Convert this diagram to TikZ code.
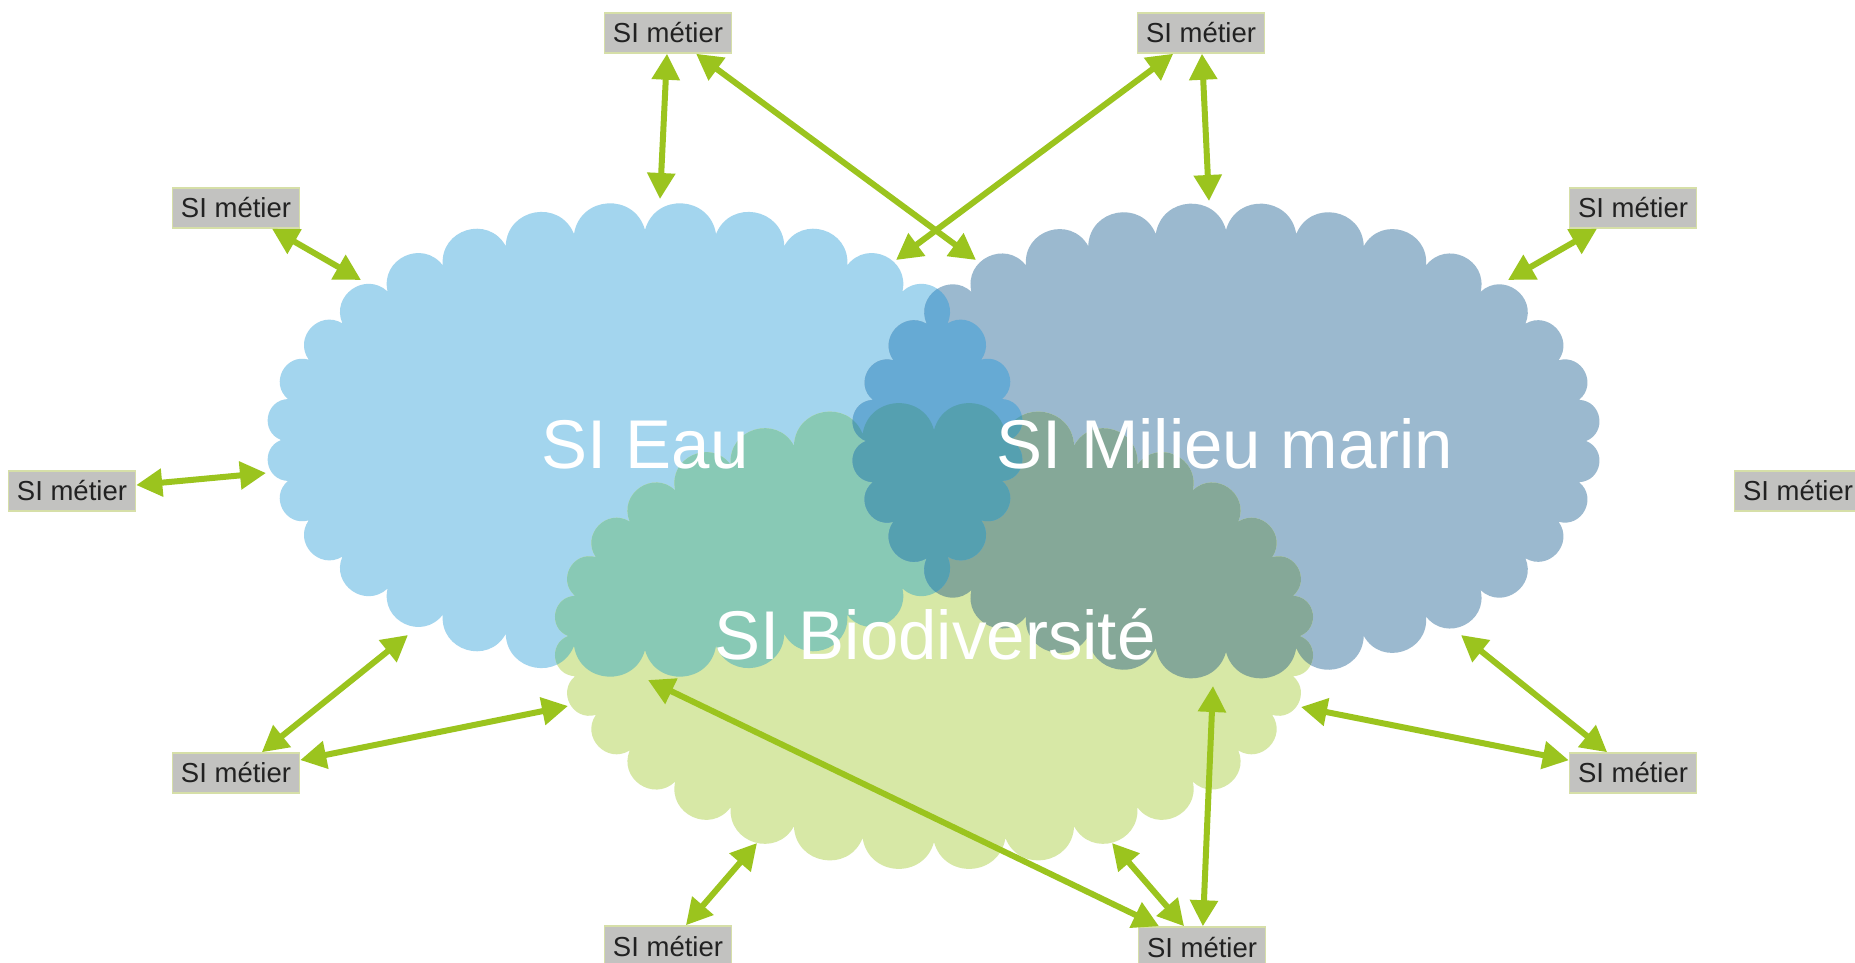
\documentclass[tikz,border=0pt]{standalone}
\usepackage{fontspec}
\setmainfont{Liberation Sans}
\usetikzlibrary{arrows.meta,calc}
\definecolor{eaucol}{HTML}{A3D5EE}
\definecolor{marcol}{HTML}{9BB9CF}
\definecolor{biocol}{HTML}{D7E8A6}
\definecolor{ebcol}{HTML}{88C9B5}
\definecolor{mbcol}{HTML}{85A898}
\definecolor{emcol}{HTML}{66AAD4}
\definecolor{allcol}{HTML}{55A0B0}
\definecolor{arrgreen}{HTML}{9BC41E}
\definecolor{labgray}{HTML}{C2C2C0}
\definecolor{labedge}{HTML}{D6DFA8}
\definecolor{labtext}{HTML}{222222}
% name, cx, cy (pixel, downward), rx, ry, N
\newcommand{\cloudpts}[6]{%
  \foreach \k in {0,...,#6}{%
    \coordinate (#1\k) at ({#2+#4*cos(\k*360/#6)},{-#3+#5*sin(\k*360/#6)});
  }}
\newcommand{\cloudpath}[2]{(#10) \foreach \k [evaluate=\k as \j using int(\k-1)] in {1,...,#2}{ .. controls ($(#1\j)!0.55!-78:(#1\k)$) and ($(#1\k)!0.55!78:(#1\j)$) .. (#1\k) } -- cycle}
\tikzset{
  lab/.style={fill=labgray, draw=labedge, line width=1.5pt, minimum width=127pt, minimum height=40pt, inner sep=0pt, text=labtext, font=\fontsize{27.5}{30}\selectfont},
  biglab/.style={anchor=base, text=white, inner sep=0pt, font=\fontsize{69}{80}\selectfont},
  arr/.style={draw=arrgreen, line width=6pt, {Triangle[length=26pt,width=27pt]}-{Triangle[length=26pt,width=27pt]}}
}
\begin{document}
\begin{tikzpicture}[x=1pt,y=1pt]
\useasboundingbox (0,0) rectangle (1855,-963);
\fill[white] (0,0) rectangle (1855,-963);
% cloud geometry
\cloudpts{eau}{645}{440}{364}{210}{32}
\cloudpts{mar}{1226}{441}{360}{211}{32}
\cloudpts{bio}{934}{636}{366}{206}{32}
% base clouds
\fill[eaucol] \cloudpath{eau}{32};
\fill[marcol] \cloudpath{mar}{32};
\fill[biocol] \cloudpath{bio}{32};
% overlaps
\begin{scope}\clip \cloudpath{eau}{32}; \fill[ebcol] \cloudpath{bio}{32};\end{scope}
\begin{scope}\clip \cloudpath{mar}{32}; \fill[mbcol] \cloudpath{bio}{32};\end{scope}
\begin{scope}\clip \cloudpath{eau}{32}; \fill[emcol] \cloudpath{mar}{32};\end{scope}
\begin{scope}\clip \cloudpath{eau}{32}; \clip \cloudpath{mar}{32}; \fill[allcol] \cloudpath{bio}{32};\end{scope}
% big titles
\node[biglab] (teau) at (645,-468) {SI Eau};
\node[biglab] (tmar) at (1225,-468) {SI Milieu marin};
\node[biglab] (tbio) at (935,-659) {SI Biodiversité};
% labels
\node[lab] (t1) at (668,-33) {SI métier};
\node[lab] (t2) at (1201,-33) {SI métier};
\node[lab] (l1) at (236,-208) {SI métier};
\node[lab] (r1) at (1633,-208) {SI métier};
\node[lab] (l2) at (72,-491) {SI métier};
\node[lab] (r2) at (1798,-491) {SI métier};
\node[lab] (l3) at (236,-773) {SI métier};
\node[lab] (r3) at (1633,-773) {SI métier};
\node[lab] (b1) at (668,-946) {SI métier};
\node[lab] (b2) at (1202,-947) {SI métier};
% arrow ends at clouds
\coordinate (a1) at (660,-199);
\coordinate (a2) at (976,-260);
\coordinate (a3) at (896,-260);
\coordinate (a4) at (1209,-201);
\coordinate (a5) at (361,-280);
\coordinate (a6) at (1508,-280);
\coordinate (a7) at (266,-473);
\coordinate (a9) at (408,-635);
\coordinate (a10) at (568,-706);
\coordinate (a11) at (1461,-635);
\coordinate (a12) at (1301,-707);
\coordinate (a13) at (757,-843);
\coordinate (a14) at (648,-680);
\coordinate (a15) at (1112,-843);
\coordinate (a16) at (1213,-686);
% arrows
\draw[arr] (t1) -- (a1);
\draw[arr] (t1) -- (a2);
\draw[arr] (t2) -- (a3);
\draw[arr] (t2) -- (a4);
\draw[arr] (l1) -- (a5);
\draw[arr] (r1) -- (a6);
\draw[arr] (l2) -- (a7);
\draw[arr] (l3) -- (a9);
\draw[arr] (l3) -- (a10);
\draw[arr] (r3) -- (a11);
\draw[arr] (r3) -- (a12);
\draw[arr] (b1) -- (a13);
\draw[arr] (b2) -- (a14);
\draw[arr] (b2) -- (a15);
\draw[arr] (b2) -- (a16);
\end{tikzpicture}
\end{document}
